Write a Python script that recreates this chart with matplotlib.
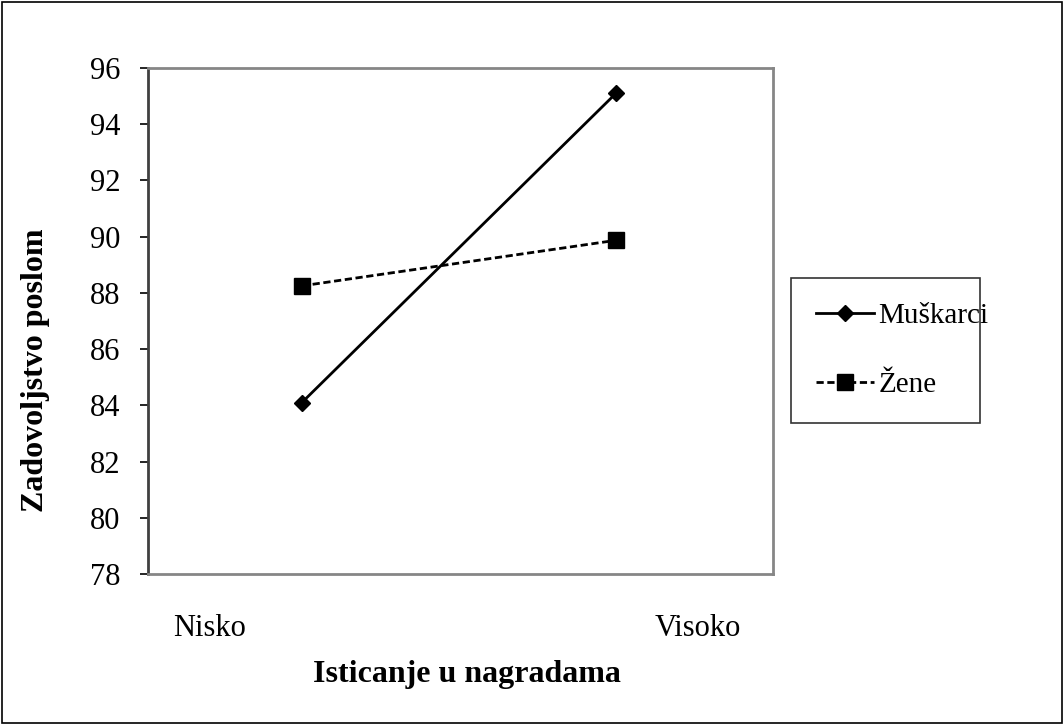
import matplotlib
matplotlib.use('Agg')
import matplotlib.pyplot as plt
from matplotlib.patches import Rectangle

# Podaci
razine = ['Nisko', 'Visoko']
muskarci = [84.1, 95.1]
zene = [88.25, 89.87]

plt.rcParams['font.family'] = ['Liberation Serif', 'DejaVu Serif']

fig = plt.figure(figsize=(10.64, 7.25), dpi=100)
ax = fig.add_axes([148 / 1064, 1 - 574 / 725, (773 - 148) / 1064, (574 - 68) / 725])

x = [0, 1]
ax.plot(x, muskarci, color='black', lw=2, marker='D', ms=8, label='Muškarci')
ax.plot(x, zene, color='black', lw=2, ls=(0, (2.6, 1.3)), marker='s', ms=11.5, label='Žene')

ax.set_xlim(-0.49, 1.5)
ax.set_ylim(78, 96)
ax.set_yticks(range(78, 97, 2))
ax.tick_params(axis='y', labelsize=22, length=6, width=1.2, direction='out', pad=14)

# kategorije ispod osi
ax.set_xticks([-0.293, 1.26])
ax.set_xticklabels(razine)
ax.tick_params(axis='x', length=0, labelsize=22, pad=29)

for s in ['top', 'right', 'bottom']:
    ax.spines[s].set_color('#868686')
    ax.spines[s].set_linewidth(2)
ax.spines['left'].set_color('#404040')
ax.spines['left'].set_linewidth(2)

ax.set_ylabel('Zadovoljstvo poslom', fontsize=23, fontweight='bold')
ax.yaxis.set_label_coords(-0.157, 0.403)
ax.set_xlabel('Isticanje u nagradama', fontsize=23, fontweight='bold')
ax.xaxis.set_label_coords(0.51, -0.169)

leg = ax.legend(loc='upper left', bbox_to_anchor=(791 / 1064, 1 - 416 / 725, (980 - 791) / 1064, (416 - 278) / 725),
                bbox_transform=fig.transFigure, mode='expand', fontsize=21, frameon=True, fancybox=False,
                edgecolor='black', handlelength=2.0, handletextpad=0.15, labelspacing=1.45,
                borderpad=0.85, borderaxespad=0)
leg.get_frame().set_linewidth(1.2)

fig.patches.append(Rectangle((2 / 1064, 2 / 725), 1 - 4 / 1064, 1 - 4 / 725, transform=fig.transFigure,
                             fill=False, edgecolor='black', lw=1.2))

fig.savefig('out.png', dpi=100)
